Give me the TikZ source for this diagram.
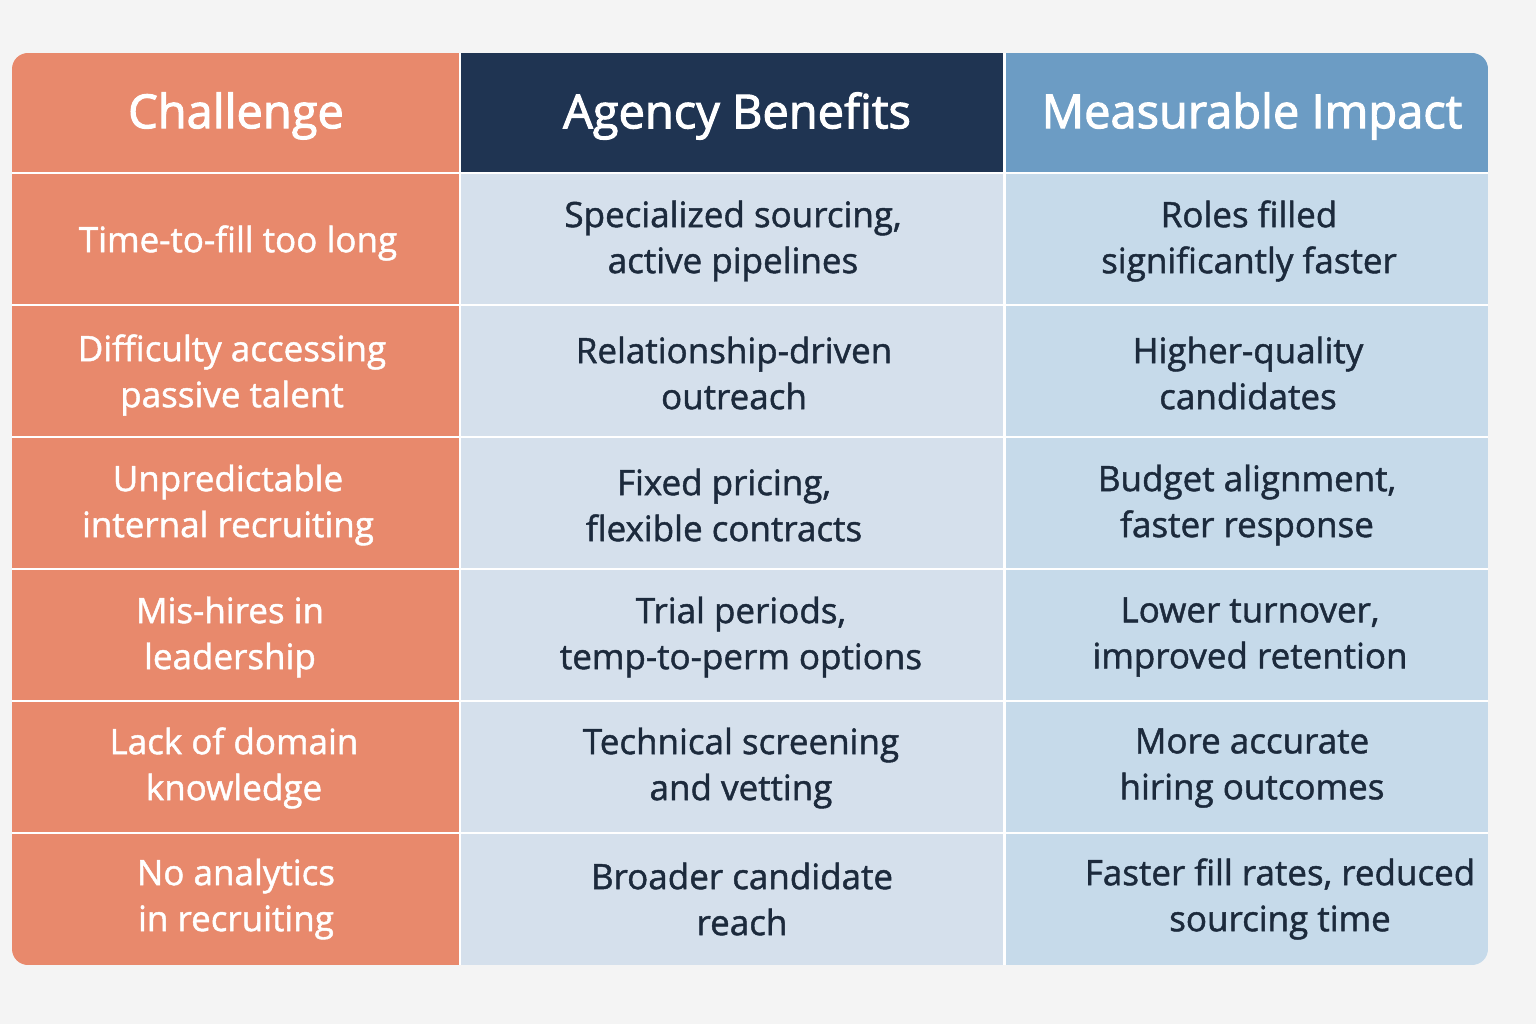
\documentclass[tikz,border=0pt]{standalone}
\usepackage{fontspec}
\setmainfont{Open Sans}
\newfontfamily\medf{Open Sans}[FakeBold=1.3]
\newfontfamily\hdf{Open Sans}[FakeBold=2.2]
\definecolor{bg}{HTML}{F4F4F4}
\definecolor{org}{HTML}{E8896C}
\definecolor{navy}{HTML}{1F3452}
\definecolor{hblue}{HTML}{6C9CC4}
\definecolor{lb1}{HTML}{D5E0EC}
\definecolor{lb2}{HTML}{C6DAEA}
\definecolor{txt}{HTML}{1C2A3C}
\begin{document}
\begin{tikzpicture}[x=1pt,y=-1pt,
  hd/.style={font=\hdf\fontsize{47}{50}\selectfont, text=white, align=center},
  ch/.style={font=\medf\fontsize{35}{46}\selectfont, text=white, align=center},
  bd/.style={font=\medf\fontsize{35}{46}\selectfont, text=txt, align=center}]
\useasboundingbox (0,0) rectangle (1536,1024);
\fill[bg] (0,0) rectangle (1536,1024);
\begin{scope}
\clip[rounded corners=16] (12,53) rectangle (1488,965);
\fill[white] (12,53) rectangle (1488,965);
\fill[org] (12,53) rectangle (459,172);
\fill[navy] (461,53) rectangle (1003,172);
\fill[hblue] (1006,53) rectangle (1488,172);
\foreach \t/\b in {174/304,306/436,438/568,570/700,702/832,834/965}{
  \fill[org] (12,\t) rectangle (459,\b);
  \fill[lb1] (461,\t) rectangle (1003,\b);
  \fill[lb2] (1006,\t) rectangle (1488,\b);
}
\end{scope}
\node[hd] (h1) at (236,116) {Challenge};
\node[hd] (h2) at (737,116) {Agency Benefits};
\node[hd] (h3) at (1252,116) {Measurable Impact};
\node[ch] (c1) at (238,243) {Time-to-fill too long};
\node[ch] (c2) at (232,375) {Difficulty accessing\\passive talent};
\node[ch] (c3) at (228,505) {Unpredictable\\internal recruiting};
\node[ch] (c4) at (230,637) {Mis-hires in\\leadership};
\node[ch] (c5) at (234,768) {Lack of domain\\knowledge};
\node[ch] (c6) at (236,899) {No analytics\\in recruiting};
\node[bd] (b1) at (733,241) {Specialized sourcing,\\active pipelines};
\node[bd] (b2) at (734,373) {Relationship-driven\\outreach};
\node[bd] (b3) at (724,505) {Fixed pricing,\\flexible contracts};
\node[bd] (b4) at (741,637) {Trial periods,\\temp-to-perm options};
\node[bd] (b5) at (741,768) {Technical screening\\and vetting};
\node[bd] (b6) at (742,899) {Broader candidate\\reach};
\node[bd] (m1) at (1249,241) {Roles filled\\significantly faster};
\node[bd] (m2) at (1248,373) {Higher-quality\\candidates};
\node[bd] (m3) at (1247,505) {Budget alignment,\\faster response};
\node[bd] (m4) at (1250,637) {Lower turnover,\\improved retention};
\node[bd] (m5) at (1252,768) {More accurate\\hiring outcomes};
\node[bd] (m6) at (1280,899) {Faster fill rates, reduced\\sourcing time};
\end{tikzpicture}
\end{document}
